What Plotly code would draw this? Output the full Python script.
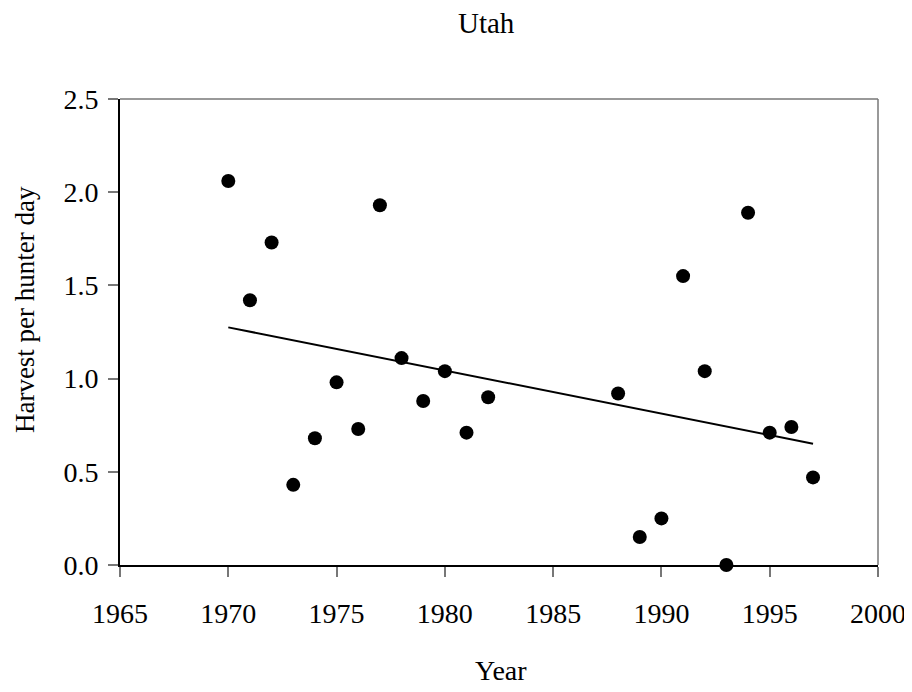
import numpy as np
import plotly.graph_objects as go

# Harvest per hunter day, Utah
years = [1970, 1971, 1972, 1973, 1974, 1975, 1976, 1977, 1978, 1979, 1980, 1981, 1982,
         1988, 1989, 1990, 1991, 1992, 1993, 1994, 1995, 1996, 1997]
harvest = [2.06, 1.42, 1.73, 0.43, 0.68, 0.98, 0.73, 1.93, 1.11, 0.88, 1.04, 0.71, 0.90,
           0.92, 0.15, 0.25, 1.55, 1.04, 0.00, 1.89, 0.71, 0.74, 0.47]

x_ticks = [1965, 1970, 1975, 1980, 1985, 1990, 1995, 2000]
y_ticks = [0.0, 0.5, 1.0, 1.5, 2.0, 2.5]

FONT = "Liberation Serif, Times New Roman, serif"

# linear trend over the observed years
slope, intercept = np.polyfit(years, harvest, 1)
trend_x = [min(years), max(years)]
trend_y = [slope * x + intercept for x in trend_x]

fig = go.Figure()
fig.add_trace(go.Scatter(x=trend_x, y=trend_y, mode="lines",
                         line=dict(color="black", width=2), showlegend=False, hoverinfo="skip"))
fig.add_trace(go.Scatter(x=years, y=harvest, mode="markers",
                         marker=dict(color="black", size=14), showlegend=False, cliponaxis=False))

# top / right frame (thin grey)
fig.add_shape(type="line", xref="paper", yref="paper", x0=0, x1=1, y0=1, y1=1,
              line=dict(color="#777777", width=1.5))
fig.add_shape(type="line", xref="paper", yref="paper", x0=1, x1=1, y0=0, y1=1,
              line=dict(color="#777777", width=1.5))

fig.add_annotation(text="Utah", xref="paper", yref="paper", x=0.483, y=1.0, yshift=58,
                   yanchor="bottom", showarrow=False, font=dict(family=FONT, size=29, color="black"))
fig.add_annotation(text="Year", xref="paper", yref="paper", x=0.502, y=0, yshift=-88,
                   yanchor="top", showarrow=False, font=dict(family=FONT, size=28, color="black"))
fig.add_annotation(text="Harvest per hunter day", xref="paper", yref="paper", x=0, xshift=-78,
                   y=0.547, textangle=-90, xanchor="right", showarrow=False,
                   font=dict(family=FONT, size=27, color="black"))

fig.update_xaxes(range=[1965, 2000], tickvals=x_ticks, ticktext=[str(v) for v in x_ticks],
                 showgrid=False, zeroline=False, showline=True, linecolor="black", linewidth=2,
                 ticks="outside", ticklen=10, tickwidth=1.5, tickcolor="#777777",
                 tickfont=dict(family=FONT, size=28, color="black"), ticklabelstandoff=12)
fig.update_yaxes(range=[0, 2.5], tickvals=y_ticks, ticktext=[f"{v:.1f}" for v in y_ticks],
                 showgrid=False, zeroline=False, showline=True, linecolor="black", linewidth=2,
                 ticks="outside", ticklen=10, tickwidth=1.5, tickcolor="#777777",
                 tickfont=dict(family=FONT, size=28, color="black"), ticklabelstandoff=4)

# the page body adds an 8px margin, so the plot area is offset to compensate
fig.update_layout(
    width=912, height=692,
    margin=dict(l=112, r=42, t=91, b=135),
    paper_bgcolor="white", plot_bgcolor="white",
    font=dict(family=FONT, color="black"),
)

fig.write_html("out.html")
